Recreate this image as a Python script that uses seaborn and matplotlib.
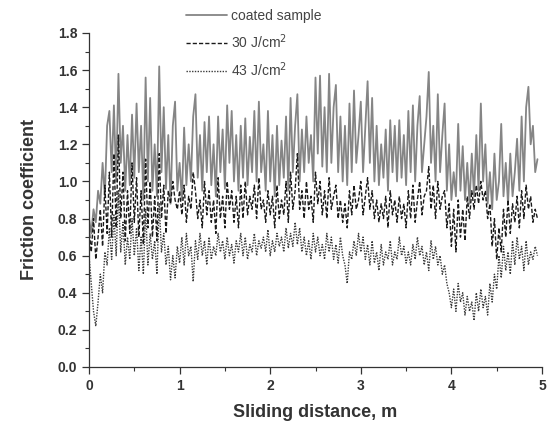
import numpy as np
import pandas as pd
import matplotlib
matplotlib.use("Agg")
import matplotlib.pyplot as plt
import seaborn as sns
from matplotlib.ticker import MultipleLocator

coated = [
    0.80, 0.72, 0.85, 0.78, 0.95,
    0.88, 1.10, 0.92, 1.30,
    1.38, 1.05, 1.41, 1.00,
    1.58, 1.10, 1.30, 0.95,
    1.25, 0.98, 1.36, 1.02,
    1.42, 1.05, 1.30, 0.90,
    1.56, 1.00, 1.45, 0.95,
    1.20, 0.92, 1.62, 1.05,
    1.40, 0.96, 1.25, 0.88,
    1.30, 1.43, 0.95, 1.10,
    0.90, 1.29, 0.98, 1.20,
    1.00, 1.35, 1.47, 1.02,
    1.25, 0.95, 1.32, 1.05,
    1.35, 0.98, 1.20, 0.92,
    1.35, 1.05, 1.28, 0.96,
    1.41, 1.10, 1.38, 1.00,
    1.25, 0.95, 1.30, 1.02,
    1.34, 0.98, 1.24, 1.05,
    1.38, 1.00, 1.43, 1.05,
    1.20, 0.95, 1.38, 1.00,
    1.25, 0.92, 1.30, 0.98,
    1.22, 1.02, 1.35, 0.95,
    1.45, 1.05, 1.30, 1.47,
    1.00, 1.28, 1.05, 1.35,
    1.10, 1.25, 1.00, 1.56,
    1.15, 1.57, 1.08, 1.40,
    1.05, 1.58, 1.10, 1.40,
    1.52, 1.05, 1.35, 1.00,
    1.30, 0.98, 1.42, 1.05,
    1.49, 1.10, 1.25, 1.43,
    1.05, 1.30, 1.54, 1.10,
    1.45, 1.00, 1.30, 0.98,
    1.20, 1.02, 1.28, 0.95,
    1.33, 1.05, 1.30, 1.00,
    1.33, 1.02, 1.25, 0.98,
    1.38, 1.05, 1.41, 1.00,
    1.30, 1.46, 1.05, 1.20,
    1.35, 1.59, 1.10, 1.30,
    1.00, 1.47, 1.05, 1.25,
    1.42, 0.95, 1.20, 0.90,
    1.05, 0.92, 1.31, 0.95,
    1.19, 0.90, 1.10, 0.88,
    1.15, 0.92, 1.25, 0.95,
    1.42, 1.00, 1.20, 0.88,
    1.05, 0.85, 1.15, 0.90,
    1.00, 1.31, 0.92, 1.10,
    0.88, 1.15, 0.92, 1.05,
    1.23, 0.95, 1.35, 1.00,
    1.40, 1.51, 1.20, 1.30,
    1.05, 1.12,
]

j30 = [
    0.75, 0.62, 0.80, 0.58, 0.70,
    0.85, 0.65, 0.98, 0.72,
    1.05, 0.70, 1.15, 0.75,
    1.25, 0.80, 1.05, 0.68,
    0.95, 0.72, 1.10, 0.78,
    1.02, 0.70, 0.95, 0.66,
    1.12, 0.75, 1.00, 0.70,
    0.92, 0.68, 1.15, 0.80,
    0.98, 0.72, 0.95, 0.88,
    1.00, 0.90, 0.85, 0.95,
    0.82, 0.98, 0.78, 0.92,
    0.85, 1.05, 0.95, 0.80,
    0.90, 0.75, 1.00, 0.82,
    0.95, 0.78, 0.90, 0.72,
    1.02, 0.80, 0.92, 0.75,
    1.00, 0.85, 0.95, 0.78,
    0.92, 0.75, 0.98, 0.80,
    1.00, 0.82, 0.92, 0.85,
    0.98, 0.80, 1.02, 0.85,
    0.90, 0.78, 0.95, 0.82,
    0.92, 0.75, 0.98, 0.80,
    0.90, 0.82, 1.00, 0.78,
    1.05, 0.85, 0.95, 1.15,
    0.85, 0.95, 0.80, 1.00,
    0.85, 0.92, 0.78, 1.05,
    0.88, 1.00, 0.82, 0.95,
    0.80, 1.02, 0.85, 0.92,
    0.98, 0.80, 0.90, 0.78,
    0.88, 0.75, 0.95, 0.82,
    0.98, 0.85, 0.90, 1.00,
    0.82, 0.92, 1.02, 0.85,
    0.95, 0.80, 0.90, 0.78,
    0.88, 0.80, 0.92, 0.75,
    0.95, 0.82, 0.90, 0.78,
    0.92, 0.80, 0.88, 0.75,
    0.95, 0.80, 0.98, 0.78,
    0.90, 1.00, 0.82, 0.92,
    0.95, 1.08, 0.85, 0.98,
    0.80, 1.00, 0.85, 0.92,
    0.95, 0.75, 0.88, 0.65,
    0.85, 0.62, 0.90, 0.70,
    0.85, 0.68, 0.92, 0.80,
    0.95, 0.85, 0.98, 0.88,
    1.00, 0.90, 0.95, 0.80,
    0.88, 0.65, 0.80, 0.58,
    0.75, 0.62, 0.85, 0.70,
    0.90, 0.72, 0.88, 0.78,
    0.92, 0.75, 0.95, 0.80,
    0.98, 0.85, 0.92, 0.78,
    0.85, 0.80,
]

j43 = [
    0.60, 0.45, 0.30, 0.22, 0.35,
    0.50, 0.40, 0.62, 0.55,
    0.75, 0.58, 0.82, 0.60,
    0.95, 0.62, 0.78, 0.55,
    0.70, 0.58, 0.80, 0.60,
    0.75, 0.52, 0.70, 0.50,
    0.85, 0.55, 0.72, 0.58,
    0.68, 0.50, 0.88, 0.62,
    0.72, 0.55, 0.65, 0.47,
    0.60, 0.48, 0.65, 0.56,
    0.70, 0.55, 0.72, 0.60,
    0.65, 0.46, 0.68, 0.58,
    0.72, 0.60, 0.68, 0.55,
    0.70, 0.58, 0.65, 0.60,
    0.72, 0.62, 0.68, 0.58,
    0.70, 0.60, 0.66, 0.56,
    0.68, 0.62, 0.72, 0.60,
    0.70, 0.58, 0.66, 0.62,
    0.72, 0.60, 0.68, 0.64,
    0.70, 0.62, 0.74, 0.60,
    0.68, 0.62, 0.72, 0.65,
    0.70, 0.62, 0.75, 0.64,
    0.72, 0.65, 0.78, 0.66,
    0.75, 0.62, 0.70, 0.60,
    0.68, 0.58, 0.72, 0.62,
    0.70, 0.60, 0.66, 0.58,
    0.72, 0.62, 0.70, 0.58,
    0.66, 0.56, 0.70, 0.60,
    0.55, 0.45, 0.62, 0.58,
    0.68, 0.60, 0.72, 0.62,
    0.70, 0.58, 0.66, 0.55,
    0.68, 0.56, 0.62, 0.52,
    0.66, 0.55, 0.62, 0.58,
    0.68, 0.55, 0.62, 0.58,
    0.70, 0.60, 0.65, 0.56,
    0.62, 0.55, 0.66, 0.58,
    0.70, 0.60, 0.65, 0.55,
    0.62, 0.52, 0.68, 0.58,
    0.65, 0.55, 0.60, 0.50,
    0.55, 0.45, 0.40, 0.32,
    0.42, 0.30, 0.45, 0.35,
    0.40, 0.28, 0.38, 0.30,
    0.35, 0.25, 0.40, 0.30,
    0.42, 0.32, 0.38, 0.28,
    0.45, 0.35, 0.50, 0.42,
    0.60, 0.48, 0.65, 0.52,
    0.62, 0.50, 0.68, 0.55,
    0.70, 0.58, 0.65, 0.52,
    0.68, 0.55, 0.62, 0.58,
    0.65, 0.60,
]

series_names = ["coated sample", "30 J/cm$^2$", "43 J/cm$^2$"]
series_values = [coated, j30, j43]
step = 0.025

x_ticks = [0, 1, 2, 3, 4, 5]
y_ticks = [0.0, 0.2, 0.4, 0.6, 0.8, 1.0, 1.2, 1.4, 1.6, 1.8]

sns.set_style("ticks")
plt.rcParams["font.family"] = ["Liberation Sans", "DejaVu Sans"]

fig = plt.figure(figsize=(5.48, 4.30), dpi=100)
ax = fig.add_axes([89 / 548, 1 - 367 / 430, (542 - 89) / 548, (367 - 33) / 430])

styles = [
    dict(color="#858585", linestyle="-", linewidth=1.3),
    dict(color="#1a1a1a", linestyle=(0, (3, 1.5)), linewidth=1.0),
    dict(color="#3a3a3a", linestyle=(0, (1, 1)), linewidth=1.0),
]

for name, vals, st in zip(series_names, series_values, styles):
    dist = np.arange(len(vals)) * step
    df = pd.DataFrame({"dist": dist, "fc": vals})
    sns.lineplot(data=df, x="dist", y="fc", ax=ax, label=name, **st)

ax.set_xlim(0, 5)
ax.set_ylim(0, 1.8)
ax.set_xticks(x_ticks)
ax.set_yticks(y_ticks)
ax.set_xticklabels([str(t) for t in x_ticks])
ax.set_yticklabels([f"{t:.1f}" for t in y_ticks])
ax.xaxis.set_minor_locator(MultipleLocator(0.5))
ax.yaxis.set_minor_locator(MultipleLocator(0.1))
ax.tick_params(which="major", direction="out", length=5, width=0.9, colors="#333333",
               labelsize=10, labelcolor="#333333")
ax.tick_params(which="minor", direction="out", length=3, width=0.8, colors="#333333")
for lab in ax.get_xticklabels() + ax.get_yticklabels():
    lab.set_fontweight("bold")
sns.despine(ax=ax)
for sp in ["left", "bottom"]:
    ax.spines[sp].set_color("#333333")
    ax.spines[sp].set_linewidth(0.9)

ax.set_xlabel("Sliding distance, m", fontsize=13, fontweight="bold", color="#333333", labelpad=8)
ax.set_ylabel("Friction coefficient", fontsize=13, fontweight="bold", color="#333333", labelpad=14)

leg = ax.legend(loc="upper left", bbox_to_anchor=(180 / 548, 1 - 3 / 430),
                bbox_transform=fig.transFigure, frameon=False, fontsize=10,
                handlelength=3.0, handletextpad=0.3, labelspacing=0.7, borderaxespad=0)
for t in leg.get_texts():
    t.set_color("#444444")

fig.savefig("out.png", dpi=100)
